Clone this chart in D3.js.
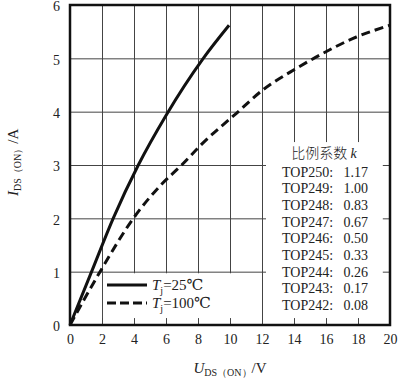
<!DOCTYPE html>
<html>
<head>
<meta charset="utf-8">
<script src="https://cdn.jsdelivr.net/npm/d3@7"></script>
<style>
body { margin: 0; background: #fff; }
svg { display: block; }
text { font-family: "Liberation Serif", "DejaVu Serif", serif; fill: #222; }
</style>
</head>
<body>
<div id="chart"></div>
<script>
// values
var xTicks = [0, 2, 4, 6, 8, 10, 12, 14, 16, 18, 20]
var yTicks = [0, 1, 2, 3, 4, 5, 6]

// Tj = 25C, solid
var u25 = [0, 1.35, 2.7, 4.27, 6.0, 8.33, 9.94]
var i25 = [0, 1.0, 2.0, 3.0, 3.93, 5.0, 5.62]
// Tj = 100C, dashed
var u100 = [0, 1.88, 3.96, 5.6, 6.98, 8.3, 10.4, 12.06, 14.2, 15.6, 17.9, 20]
var i100 = [0, 1.0, 2.0, 2.6, 3.0, 3.41, 3.97, 4.41, 4.82, 5.06, 5.4, 5.62]

var kModels = ["TOP250", "TOP249", "TOP248", "TOP247", "TOP246", "TOP245", "TOP244", "TOP243", "TOP242"]
var kValues = ["1.17", "1.00", "0.83", "0.67", "0.50", "0.33", "0.26", "0.17", "0.08"]

var margin = {top: 5, right: 10, bottom: 61, left: 70},
  width = 400 - margin.left - margin.right,
  height = 386 - margin.top - margin.bottom;

var svg = d3.select("#chart")
  .append("svg")
    .attr("width", 400)
    .attr("height", 386)
  .append("g")
    .attr("transform", "translate(" + margin.left + "," + margin.top + ")");

var x = d3.scaleLinear().domain([0, 20]).range([0, width])
var y = d3.scaleLinear().domain([0, 6]).range([height, 0])

// grid
svg.append("g")
  .attr("transform", "translate(0," + height + ")")
  .call(d3.axisBottom(x).tickValues(xTicks.slice(1, -1)).tickSize(-height).tickFormat(""))
svg.append("g")
  .call(d3.axisLeft(y).tickValues(yTicks.slice(1, -1)).tickSize(-width).tickFormat(""))
svg.selectAll(".domain").remove()
svg.selectAll(".tick line").attr("stroke", "#444").attr("stroke-width", 1)

// white boxes behind the two legends
var boxes = [
  {x0: 12.25, x1: 19.55, y0: 0.13, y1: 3.43},
  {x0: 2.06, x1: 11.82, y0: 0.13, y1: 0.97}
]
svg.selectAll(".box")
  .data(boxes)
  .enter()
  .append("rect")
    .attr("x", function(d) { return x(d.x0) })
    .attr("y", function(d) { return y(d.y1) })
    .attr("width", function(d) { return x(d.x1) - x(d.x0) })
    .attr("height", function(d) { return y(d.y0) - y(d.y1) })
    .attr("fill", "#fff")

// curves
var line = d3.line()
  .x(function(d) { return x(d[0]) })
  .y(function(d) { return y(d[1]) })
  .curve(d3.curveMonotoneX)

svg.append("path")
  .datum(d3.zip(u25, i25))
  .attr("d", line)
  .attr("fill", "none")
  .attr("stroke", "#111")
  .attr("stroke-width", 3)

svg.append("path")
  .datum(d3.zip(u100, i100))
  .attr("d", line)
  .attr("fill", "none")
  .attr("stroke", "#111")
  .attr("stroke-width", 3)
  .attr("stroke-dasharray", "9,5")

// frame
svg.append("rect")
  .attr("x", 0).attr("y", 0)
  .attr("width", width).attr("height", height)
  .attr("fill", "none")
  .attr("stroke", "#111")
  .attr("stroke-width", 2.5)

// tick labels
var ax = svg.append("g")
  .attr("transform", "translate(0," + height + ")")
  .call(d3.axisBottom(x).tickValues(xTicks).tickSize(0).tickPadding(9).tickFormat(d3.format("d")))
var ay = svg.append("g")
  .call(d3.axisLeft(y).tickValues(yTicks).tickSize(0).tickPadding(10).tickFormat(d3.format("d")))
ax.select(".domain").remove()
ay.select(".domain").remove()
ax.attr("font-family", null).attr("font-size", null)
ay.attr("font-family", null).attr("font-size", null)
ay.selectAll("text").attr("dy", "0.42em")
svg.selectAll(".tick text")
  .style("font-size", "14px")
  .attr("fill", "#222")

// axis titles
var xl = svg.append("text")
  .attr("x", x(10))
  .attr("y", 368)
  .attr("text-anchor", "middle")
  .style("font-size", "15px")
xl.append("tspan").style("font-style", "italic").text("U")
xl.append("tspan").attr("dy", 3).style("font-size", "10px").text("DS（ON）")
xl.append("tspan").attr("dy", -3).text("/V")

var yl = svg.append("text")
  .attr("transform", "translate(-52," + y(3.05) + ") rotate(-90)")
  .attr("text-anchor", "middle")
  .style("font-size", "15px")
yl.append("tspan").style("font-style", "italic").text("I")
yl.append("tspan").attr("dy", 3).style("font-size", "10px").text("DS（ON）")
yl.append("tspan").attr("dy", -3).text("/A")

// Tj legend
var legend = [
  {label: "25℃", dash: null},
  {label: "100℃", dash: "9,4"}
]
var lg = svg.selectAll(".lg")
  .data(legend)
  .enter()
  .append("g")
    .attr("transform", function(d, i) { return "translate(" + 37 + "," + (280 + i * 18) + ")" })
lg.append("line")
  .attr("x1", 0).attr("x2", 40)
  .attr("stroke", "#111")
  .attr("stroke-width", 3)
  .attr("stroke-dasharray", function(d) { return d.dash })
var lt = lg.append("text")
  .attr("x", 45)
  .attr("y", 5)
  .style("font-size", "15px")
lt.append("tspan").style("font-style", "italic").text("T")
lt.append("tspan").attr("dy", 4).style("font-size", "10px").text("j")
lt.append("tspan").attr("dy", -4).text(function(d) { return "=" + d.label })

// k table
var kt = svg.append("text")
  .attr("x", 254)
  .attr("y", 153)
  .attr("text-anchor", "middle")
  .style("font-size", "14px")
kt.append("tspan").style("font-family", "'Noto Sans CJK SC', sans-serif").style("font-weight", 300).text("比例系数 ")
kt.append("tspan").style("font-style", "italic").text("k")

var rows = svg.selectAll(".krow")
  .data(d3.zip(kModels, kValues))
  .enter()
  .append("g")
    .attr("transform", function(d, i) { return "translate(212," + (171.5 + i * 16.67) + ")" })
rows.append("text")
  .style("font-size", "14px")
  .text(function(d) { return d[0] + ":" })
rows.append("text")
  .attr("x", 86)
  .attr("text-anchor", "end")
  .style("font-size", "14px")
  .text(function(d) { return d[1] })
</script>
</body>
</html>
